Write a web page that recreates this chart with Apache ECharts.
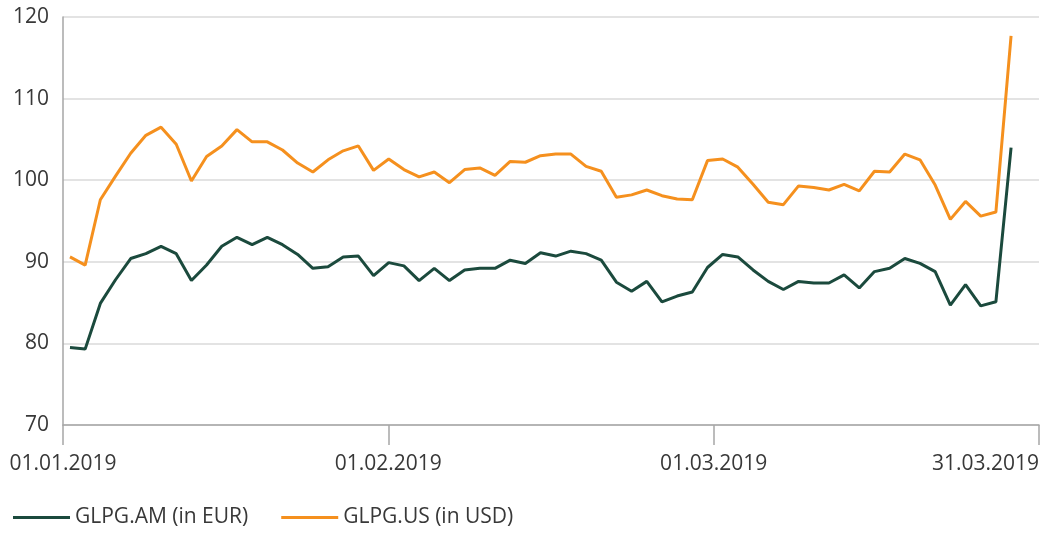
<!DOCTYPE html>
<html>
<head>
<meta charset="utf-8">
<script src="https://cdn.jsdelivr.net/npm/echarts@6/dist/echarts.min.js"></script>
<style>
    html, body {margin: 0; padding: 0; background: #fff;}
    #chartdiv {width: 1042px; height: 533px;}
</style>
</head>
<body>
<div id="chartdiv"></div>
<script>
// tick labels of the date axis
var xTickLabels = ["01.01.2019", "01.02.2019", "01.03.2019", "31.03.2019"];
var yTicks = [70, 80, 90, 100, 110, 120];

// daily values (63 trading days)
var glpgAM = [
    79.5, 79.3, 84.9, 87.8, 90.4, 91.0, 91.9, 91.0, 87.7, 89.6,
    91.9, 93.0, 92.1, 93.0, 92.1, 90.9, 89.2, 89.4, 90.6, 90.7,
    88.3, 89.9, 89.5, 87.7, 89.2, 87.7, 89.0, 89.2, 89.2, 90.2,
    89.8, 91.1, 90.7, 91.3, 91.0, 90.2, 87.5, 86.4, 87.6, 85.1,
    85.8, 86.3, 89.3, 90.9, 90.6, 89.0, 87.6, 86.6, 87.6, 87.4,
    87.4, 88.4, 86.8, 88.8, 89.2, 90.4, 89.8, 88.8, 84.7, 87.2,
    84.6, 85.1, 104.0
];
var glpgUS = [
    90.6, 89.6, 97.6, 100.5, 103.3, 105.5, 106.5, 104.4, 99.9, 102.9,
    104.2, 106.2, 104.7, 104.7, 103.7, 102.1, 101.0, 102.5, 103.6, 104.2,
    101.2, 102.6, 101.3, 100.4, 101.0, 99.7, 101.3, 101.5, 100.6, 102.3,
    102.2, 103.0, 103.2, 103.2, 101.7, 101.1, 97.9, 98.2, 98.8, 98.1,
    97.7, 97.6, 102.4, 102.6, 101.6, 99.5, 97.3, 97.0, 99.3, 99.1,
    98.8, 99.5, 98.7, 101.1, 101.0, 103.2, 102.5, 99.4, 95.2, 97.4,
    95.6, 96.1, 117.7
];

var colAM = "#1b4a3d";
var colUS = "#f5901e";
var txtColor = "#383838";
var fontName = "'Open Sans', sans-serif";

function to_points(arr) {
    var pts = [];
    for (var i = 0; i < arr.length; i++) {
        pts.push([i, arr[i]]);
    }
    return pts;
}

var dom = document.getElementById("chartdiv");
var myChart = echarts.init(dom, null, {renderer: 'canvas'});

var option = {
    animation: false,
    backgroundColor: '#fff',
    textStyle: {fontFamily: fontName},
    grid: {
        left: 63,
        right: 2,
        top: 17,
        bottom: 108,
        containLabel: false
    },
    legend: {
        left: 8,
        top: 502,
        icon: 'rect',
        itemWidth: 57,
        itemHeight: 3,
        itemGap: 33,
        textStyle: {color: txtColor, fontSize: 21, fontFamily: fontName},
        data: ['GLPG.AM (in EUR)', 'GLPG.US (in USD)']
    },
    xAxis: [
        {
            // visible date axis, ticks evenly spaced
            type: 'category',
            boundaryGap: false,
            data: xTickLabels,
            axisLine: {show: true, lineStyle: {color: '#a6a6a6', width: 1.5}},
            axisTick: {show: true, length: 20, interval: 0, lineStyle: {color: '#a6a6a6', width: 1.5}},
            axisLabel: {
                color: txtColor,
                fontSize: 21,
                fontFamily: fontName,
                margin: 29,
                interval: 0,
                alignMaxLabel: 'right'
            },
            splitLine: {show: false}
        },
        {
            // hidden index axis for the daily points
            type: 'value',
            show: false,
            min: -0.46,
            max: 63.84
        }
    ],
    yAxis: {
        type: 'value',
        min: yTicks[0],
        max: yTicks[yTicks.length - 1],
        interval: 10,
        axisLine: {show: true, onZero: false, lineStyle: {color: '#a6a6a6', width: 1.5}},
        axisTick: {show: false},
        axisLabel: {color: txtColor, fontSize: 21, fontFamily: fontName, margin: 14},
        splitLine: {show: true, lineStyle: {color: '#dadada', width: 1.5}}
    },
    series: [
        {
            name: 'GLPG.AM (in EUR)',
            type: 'line',
            xAxisIndex: 1,
            data: to_points(glpgAM),
            showSymbol: false,
            symbol: 'none',
            color: colAM,
            lineStyle: {color: colAM, width: 3}
        },
        {
            name: 'GLPG.US (in USD)',
            type: 'line',
            xAxisIndex: 1,
            data: to_points(glpgUS),
            showSymbol: false,
            symbol: 'none',
            color: colUS,
            lineStyle: {color: colUS, width: 3}
        }
    ]
};

myChart.setOption(option);
</script>
</body>
</html>
